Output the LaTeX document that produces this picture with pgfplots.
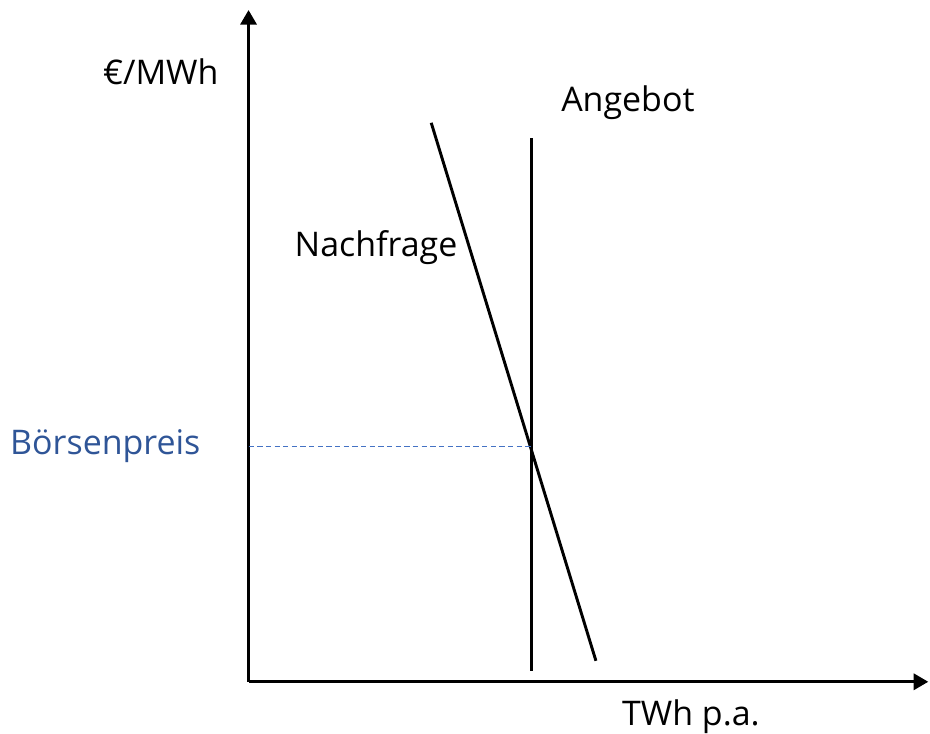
\documentclass[border=0pt]{standalone}
\usepackage{pgfplots}
\pgfplotsset{compat=1.18}
\usepackage{fontspec}
\setmainfont{Open Sans}
\usetikzlibrary{arrows.meta}
\definecolor{txtblue}{HTML}{2F5597}
\definecolor{lineblue}{HTML}{4472C4}
\newcommand{\lbl}{\fontsize{25.5}{30}\selectfont}
\begin{document}
\begin{tikzpicture}
\begin{axis}[
  x=0.75pt, y=0.75pt,
  xmin=0, xmax=681, ymin=0, ymax=673,
  axis lines=left,
  axis line style={line width=2.5pt, -{Triangle[length=11pt,width=12pt]}},
  ticks=none,
  clip=false,
]
% invisible frame fixing the page size (pixel frame 930x734)
\path (axis cs:-249,-51) -- (axis cs:681,683);
% Angebot (vertical supply)
\addplot[black, line width=2.2pt] coordinates {(283,11) (283,545)};
% Nachfrage (demand)
\addplot[black, line width=2.2pt] coordinates {(183,560) (348,21)};
% price level
\addplot[lineblue, line width=0.8pt, dash pattern=on 4pt off 2.5pt] coordinates {(0,236) (283,236)};
\node[anchor=base west, inner sep=0pt, font=\lbl] at (axis cs:-146,598) {€/MWh};
\node[anchor=base west, inner sep=0pt, font=\lbl] at (axis cs:313,571) {Angebot};
\node[anchor=base west, inner sep=0pt, font=\lbl] at (axis cs:46,426) {Nachfrage};
\node[anchor=base west, inner sep=0pt, font=\lbl, text=txtblue] at (axis cs:-239,228) {Börsenpreis};
\node[anchor=base west, inner sep=0pt, font=\lbl] at (axis cs:374,-44) {TWh p.a.};
\end{axis}
\end{tikzpicture}
\end{document}
